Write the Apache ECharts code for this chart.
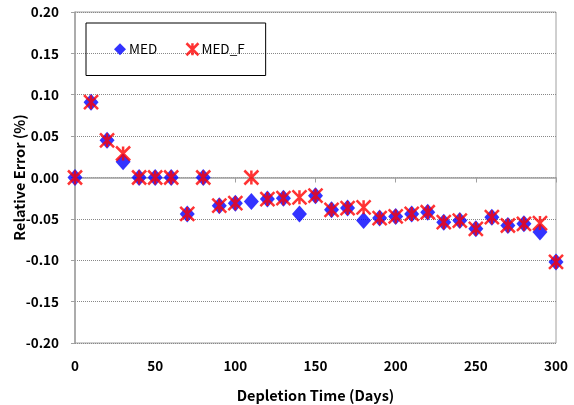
<!DOCTYPE html>
<html><head><meta charset="utf-8">
<script src="https://cdn.jsdelivr.net/npm/echarts@6/dist/echarts.min.js"></script>
<style>html,body{margin:0;padding:0;background:#fff}#c{width:574px;height:405px}</style>
</head><body><div id="c"></div>
<script>
var days = [0,10,20,30,40,50,60,70,80,90,100,110,120,130,140,150,160,170,180,190,200,210,220,230,240,250,260,270,280,290,300];
var med = [0,0.091,0.045,0.019,0,0,0,-0.044,0,-0.034,-0.031,-0.029,-0.026,-0.025,-0.044,-0.022,-0.039,-0.037,-0.052,-0.049,-0.047,-0.044,-0.042,-0.054,-0.052,-0.062,-0.048,-0.058,-0.056,-0.066,-0.102];
var medF = [0,0.091,0.045,0.029,0,0,0,-0.044,0,-0.034,-0.031,0,-0.026,-0.025,-0.024,-0.022,-0.039,-0.037,-0.036,-0.049,-0.047,-0.044,-0.042,-0.054,-0.052,-0.062,-0.048,-0.058,-0.056,-0.055,-0.102];
var yTicks = [-0.20,-0.15,-0.10,-0.05,0,0.05,0.10,0.15,0.20];

var font = '"Noto Sans CJK KR", "Noto Sans", sans-serif';
var starPath = 'path://M0,0L10,10M10,0L0,10M5,0L5,10';
function pairs(xs, ys){ return xs.map(function(x,i){ return [x, ys[i]]; }); }

var chart = echarts.init(document.getElementById('c'), null, {renderer:'canvas'});
chart.setOption({
  animation:false,
  backgroundColor:'#fff',
  grid:{left:75, right:18, top:12, bottom:62, containLabel:false, outerBoundsMode:'none',
    show:true, borderColor:'#a0a0a0', borderWidth:1},
  legend:{
    left:86, top:23,
    padding:[19,21,19,28],
    borderColor:'#000', borderWidth:1,
    itemGap:28, itemWidth:12, itemHeight:12,
    textStyle:{fontFamily:font, fontSize:13.5, color:'#000', padding:[0,0,0,-2]},
    data:[
      {name:'MED', icon:'diamond', itemStyle:{color:'#0000ff'}},
      {name:'MED_F', icon:starPath, itemStyle:{color:'transparent', borderColor:'#ff0000', borderWidth:2.5}}
    ]
  },
  xAxis:{
    type:'value', min:0, max:300, interval:50,
    name:'Depletion Time (Days)', nameLocation:'middle', nameGap:45, nameMoveOverlap:false,
    nameTextStyle:{fontFamily:font, fontSize:14.5, fontWeight:'bold', color:'#000'},
    axisLine:{show:true, lineStyle:{color:'#a0a0a0', width:1.5}},
    axisTick:{show:true, length:5, lineStyle:{color:'#a0a0a0'}},
    axisLabel:{fontFamily:font, fontSize:13.5, fontWeight:'bold', color:'#000', margin:16},
    splitLine:{show:false}
  },
  yAxis:{
    type:'value', min:-0.20, max:0.20, interval:0.05,
    name:'Relative Error (%)', nameLocation:'middle', nameGap:48, nameRotate:90, nameMoveOverlap:false,
    nameTextStyle:{fontFamily:font, fontSize:14.5, fontWeight:'bold', color:'#000'},
    axisLine:{show:true, lineStyle:{color:'#a0a0a0', width:1.5}},
    axisTick:{show:true, length:4, lineStyle:{color:'#a0a0a0'}},
    axisLabel:{fontFamily:font, fontSize:13.5, fontWeight:'bold', color:'#000', margin:16,
      formatter:function(v){ return v.toFixed(2); }},
    splitLine:{show:true, lineStyle:{color:'#888', type:[1,1], width:1}}
  },
  series:[
    {name:'MED', type:'scatter', data:pairs(days, med), symbol:'diamond', symbolSize:[15,17],
      itemStyle:{color:'#0000ff'}, z:2},
    {name:'MED_F', type:'scatter', data:pairs(days, medF), symbol:starPath, symbolSize:[14,14],
      itemStyle:{color:'transparent', borderColor:'#ff0000', borderWidth:2.5}, z:3}
  ]
});
</script></body></html>
